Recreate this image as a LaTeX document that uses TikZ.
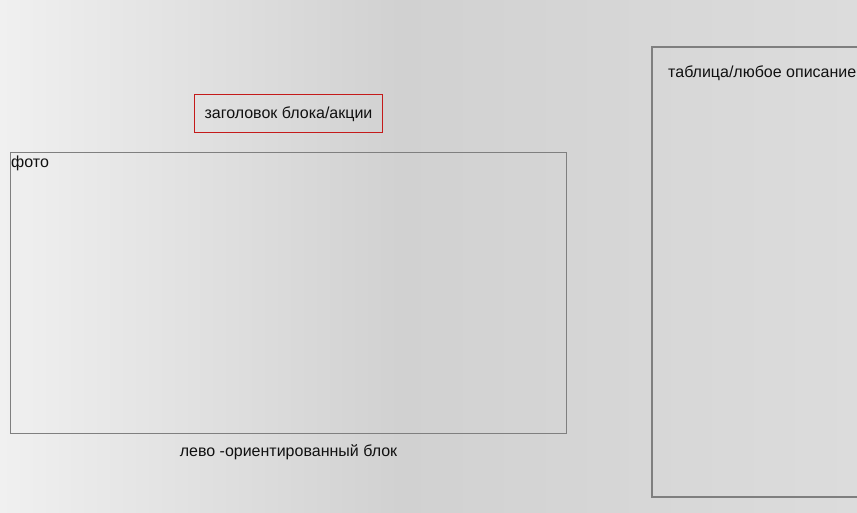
\documentclass[tikz,border=0pt]{standalone}
\usepackage{fontspec}
\setmainfont{Liberation Sans}
\definecolor{bgL}{HTML}{F0F0F0}
\definecolor{bgM}{HTML}{D1D1D1}
\definecolor{bgR}{HTML}{DCDCDC}
\definecolor{boxgray}{HTML}{7F7F7F}
\definecolor{boxred}{HTML}{C41A1A}
\definecolor{txt}{HTML}{111111}
\begin{document}
\begin{tikzpicture}[x=1pt,y=-1pt,
  lbl/.style={inner sep=0pt,text=txt,font=\fontsize{16}{19}\selectfont},
  graybox/.style={draw=boxgray,line width=1pt},
  redbox/.style={draw=boxred,line width=1pt}]
\useasboundingbox (0,0) rectangle (857,512);
\shade[left color=bgL,right color=bgM] (0,0) rectangle (400,512);
\shade[left color=bgM,right color=bgR] (400,0) rectangle (857,512);
% header box
\node[redbox,minimum width=188pt,minimum height=38pt,inner sep=0pt] (hdr) at (288,113) {};
\node[lbl] (hdrt) at (288.5,114.5) {заголовок блока/акции};
% left photo box
\draw[graybox] (10.5,152.5) rectangle (566.5,433.5);
\node[lbl,anchor=north west] (foto) at (11,156) {фото};
\node[lbl] (leftlbl) at (288.5,452.5) {лево -ориентированный блок};
% right box
\draw[graybox,line width=2pt] (870,47) -- (652,47) -- (652,497) -- (870,497);
\node[lbl,anchor=west] (tbl) at (668,73.5) {таблица/любое описание};
\end{tikzpicture}
\end{document}
